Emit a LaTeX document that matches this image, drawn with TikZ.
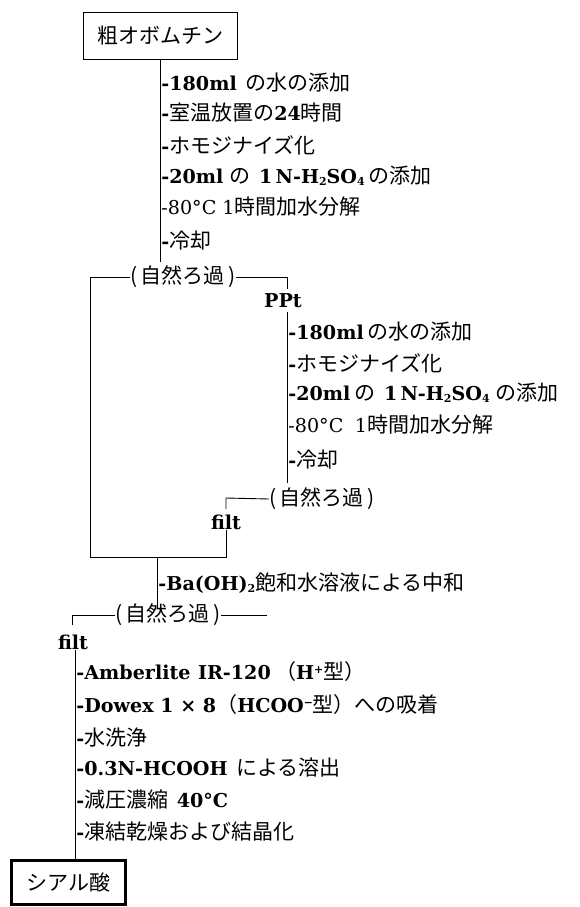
\documentclass[tikz,border=0pt]{standalone}
\usepackage{fontspec}
\setmainfont{Noto Sans CJK JP}
\newfontfamily\la[Scale=0.91]{DejaVu Serif}
\newcommand\lb[1]{{\la\bfseries #1}}
\newcommand\lr[1]{{\la #1}}
\newcommand\sbs[1]{\raisebox{-0.25ex}{\fontsize{12}{12}\selectfont #1}}
\newcommand\sps[1]{\raisebox{0.7ex}{\fontsize{12}{12}\selectfont #1}}
\begin{document}
\begin{tikzpicture}[x=1pt,y=-1pt,line width=0.9pt,
  every node/.style={font=\fontsize{21}{23}\selectfont},
  stepitem/.style={anchor=west,inner sep=0pt},
  filtlabel/.style={inner sep=0pt},
  prodbox/.style={draw,line width=0.9pt,minimum width=154pt,minimum height=47pt,inner sep=0pt},
  endbox/.style={draw,line width=3pt,minimum width=114pt,minimum height=44pt,inner sep=0pt}]
\useasboundingbox (0,0) rectangle (580,907);

% start box
\node[prodbox] (start) at (160,36) {粗オボムチン};
\coordinate (v1b) at (160,262);
\draw (start.south) -- (v1b);
\node[stepitem] (a1) at (161,83) {\lb{-180ml}\hspace{0.4em}の水の添加};
\node[stepitem] (a2) at (161,113) {\lb{-}室温放置の\lb{24}時間};
\node[stepitem] (a3) at (161,145) {\lb{-}ホモジナイズ化};
\node[stepitem] (a4) at (161,176) {\lb{-20ml}\hspace{0.3em}の\hspace{0.4em}\lb{1\,N-H\sbs{2}SO\sbs{4}}\hspace{0.2em}の添加};
\node[stepitem] (a5) at (161,207) {\lr{-80°C 1}時間加水分解};
\node[stepitem] (a6) at (161,241) {\lb{-}冷却};

% filtration 1
\node[filtlabel] (f1) at (183,277) {(\,自然ろ過\,)};
\coordinate (f1l) at (90,277);
\coordinate (f1lb) at (90,557);
\coordinate (f1r) at (287,277);
\coordinate (f1rt) at (287,289);
\draw (f1.east) -- (f1r) -- (f1rt);

% PPt branch
\node[inner sep=0pt] (ppt) at (283,301) {\lb{PPt}};
\coordinate (v2t) at (287,312);
\coordinate (v2b) at (287,483);
\draw (v2t) -- (v2b);
\node[stepitem] (b1) at (288,332) {\lb{-180ml}\hspace{0.2em}の水の添加};
\node[stepitem] (b2) at (288,363) {\lb{-}ホモジナイズ化};
\node[stepitem] (b3) at (288,393) {\lb{-20ml}\hspace{0.2em}の\hspace{0.4em}\lb{1\,N-H\sbs{2}SO\sbs{4}}\hspace{0.3em}の添加};
\node[stepitem] (b4) at (288,425) {\lr{-80°C\hspace{0.6em}1}時間加水分解};
\node[stepitem] (b5) at (288,460) {\lb{-}冷却};

% filtration 2
\node[filtlabel] (f2) at (322,499) {(\,自然ろ過\,)};
\coordinate (f2l) at (226,498);
\coordinate (f2lb) at (226,509);
\draw (f2.west) -- (f2l) -- (f2lb);
\node[inner sep=0pt] (filt1) at (226,522) {\lb{filt}};
\coordinate (j1) at (226,557);
\draw (f1.west) -- (f1l) -- (f1lb) -- (j1) -- (filt1.south);

% neutralisation
\coordinate (v3t) at (157,557);
\coordinate (v3b) at (157,608);
\draw (v3t) -- (v3b);
\node[stepitem] (c1) at (158,583) {\lb{-Ba(OH)\sbs{2}}飽和水溶液による中和};

% filtration 3
\node[filtlabel] (f3) at (168,615) {(\,自然ろ過\,)};
\coordinate (f3l) at (72,615);
\coordinate (f3lb) at (72,625);
\coordinate (f3r) at (267,615);
\draw (f3.west) -- (f3l) -- (f3lb);
\draw (f3.east) -- (f3r);
\node[inner sep=0pt] (filt2) at (73,642) {\lb{filt}};

% end box
\node[endbox] (end) at (68.5,882.5) {シアル酸};
\draw ([xshift=2pt]filt2.south) -- ([xshift=2pt]filt2.south |- end.north);
\node[stepitem] (d1) at (76,672) {\lb{-Amberlite\hspace{0.4em}IR-120}\hspace{0.2em}（\lb{H\sps{+}}型）};
\node[stepitem] (d2) at (76,705) {\lb{-Dowex 1 × 8}（\lb{HCOO\sps{−}}型）への吸着};
\node[stepitem] (d3) at (76,738) {\lb{-}水洗浄};
\node[stepitem] (d4) at (76,768) {\lb{-0.3N-HCOOH}\hspace{0.4em}による溶出};
\node[stepitem] (d5) at (76,800) {\lb{-}減圧濃縮\hspace{0.4em}\lb{40°C}};
\node[stepitem] (d6) at (76,832) {\lb{-}凍結乾燥および結晶化};
\end{tikzpicture}
\end{document}
